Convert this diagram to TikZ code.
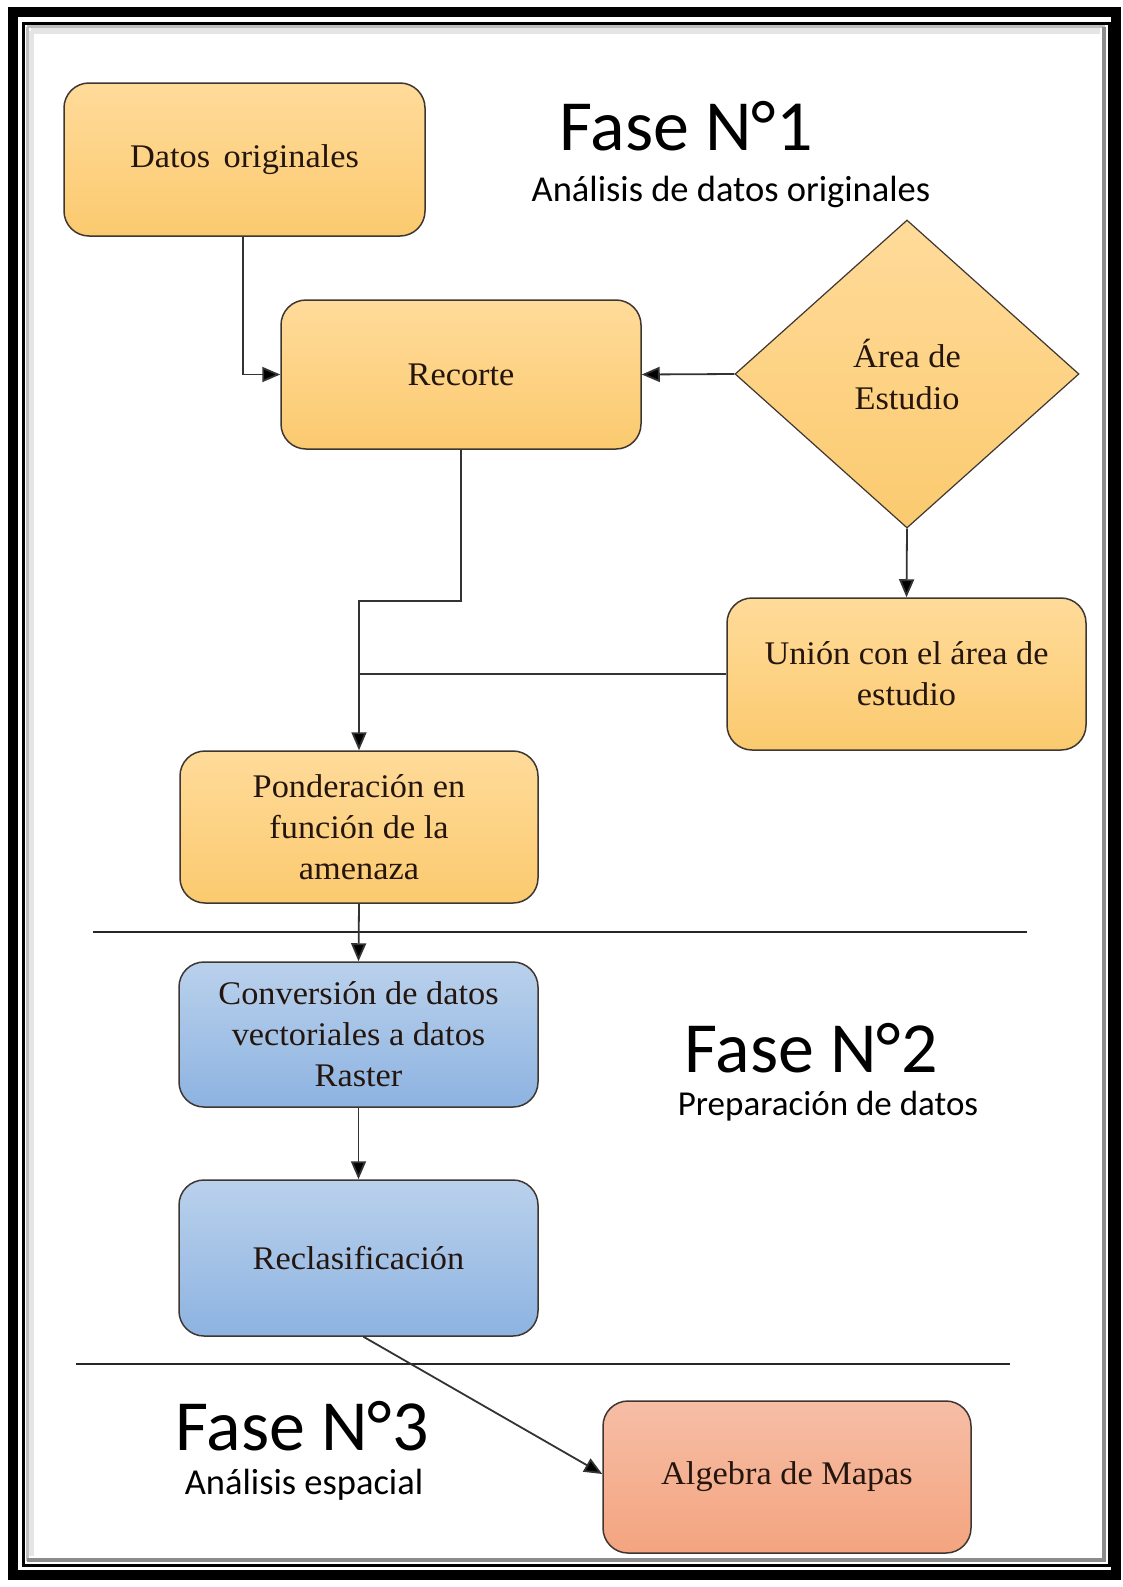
\documentclass[tikz,border=0pt]{standalone}
\usepackage{fontspec}
\setmainfont[FakeStretch=1.04]{Liberation Serif}
\newfontfamily\calib{Carlito}
\usetikzlibrary{shapes.geometric,arrows.meta}
\definecolor{oTop}{HTML}{FFDB9A}
\definecolor{oBot}{HTML}{FBCA6F}
\definecolor{bTop}{HTML}{BAD1EC}
\definecolor{bBot}{HTML}{8DB3E1}
\definecolor{sTop}{HTML}{F6BEA6}
\definecolor{sBot}{HTML}{F4A47F}
\definecolor{boxline}{HTML}{3E3630}
\definecolor{lineC}{HTML}{333333}
\definecolor{txt}{HTML}{24160E}
\tikzset{
  box/.style={draw=boxline, line width=1.5pt, rounded corners=25pt, align=center,
    font=\fontsize{33}{41}\selectfont, text=txt, inner sep=0pt},
  orangebox/.style={box, top color=oTop, bottom color=oBot},
  bluebox/.style={box, top color=bTop, bottom color=bBot},
  salmonbox/.style={box, top color=sTop, bottom color=sBot},
  conn/.style={draw=lineC, line width=1.8pt},
  arr/.style={conn, -{Triangle[length=18pt,width=15pt,fill=black]}},
  fase/.style={font=\calib\fontsize{72}{72}\selectfont, anchor=base, inner sep=0pt},
  fasesub/.style={font=\calib\fontsize{35}{35}\selectfont, anchor=base, inner sep=0pt},
  sep/.style={draw=black!85, line width=1.5pt}
}
\begin{document}
\begin{tikzpicture}[x=1pt,y=-1pt]
\useasboundingbox (0,0) rectangle (1122,1587);
\fill[white] (0,0) rectangle (1122,1587);
% frame
\draw[black, line width=10pt] (12.5,12.5) rectangle (1115.5,1575);
\draw[black!10, line width=6pt] (31,31) -- (31,1556);
\draw[black!10, line width=6pt] (31,31) -- (1100,31);
\draw[black!25, line width=3pt] (27,27) -- (27,1561);
\draw[black!25, line width=3pt] (27,27) -- (1105,27);
\draw[black!45, line width=4pt] (1104,27) -- (1104,1560) -- (27,1560);
\draw[black, line width=3pt] (23.5,23.5) rectangle (1109,1565);

% titles
\node[fase] (f1) at (686,150) {Fase N°1};
\node[fasesub, font=\calib\fontsize{36.5}{36.5}\selectfont] (f1s) at (731,201) {Análisis de datos originales};
\node[fase] (f2) at (811,1072) {Fase N°2};
\node[fasesub] (f2s) at (828,1115) {Preparación de datos};
\node[fase] (f3) at (302,1450) {Fase N°3};
\node[fasesub, font=\calib\fontsize{36.5}{36.5}\selectfont] (f3s) at (304,1494) {Análisis espacial};

% separators
\coordinate (s1a) at (93,932);
\coordinate (s1b) at (1027,932);
\coordinate (s2a) at (76,1364);
\coordinate (s2b) at (1010,1364);
\draw[sep] (s1a) -- (s1b);
\draw[sep] (s2a) -- (s2b);

% nodes
\node[orangebox, minimum width=361pt, minimum height=153pt] (datos) at (244.5,159.5) {Datos\hspace{0.15em} originales};
\node[orangebox, minimum width=360pt, minimum height=149pt] (recorte) at (461,374.5) {Recorte};
\node[diamond, draw=boxline, line width=1.2pt, top color=oTop, bottom color=oBot,
      minimum width=344pt, minimum height=308pt, inner sep=0pt, align=center,
      font=\fontsize{33}{42}\selectfont, text=txt] (area) at (907,374) {Área de\\Estudio};
\node[orangebox, minimum width=359pt, minimum height=152pt] (union) at (906.5,674) {Unión con el área de\\estudio};
\node[orangebox, minimum width=358pt, minimum height=152pt] (pond) at (359,827) {Ponderación en\\función de la\\amenaza};
\node[bluebox, minimum width=359pt, minimum height=145pt] (conv) at (358.5,1034.5) {Conversión de datos\\vectoriales a datos\\Raster};
\node[bluebox, minimum width=359pt, minimum height=156pt] (recl) at (358.5,1258) {Reclasificación};
\node[salmonbox, minimum width=368pt, minimum height=152pt] (alg) at (787,1477) {Algebra de Mapas};

% connectors
\coordinate (j1) at (359,601);
\draw[arr] ([xshift=-1.5pt]datos.south) |- (recorte.west);
\draw[arr] (area.west) -- (recorte.east);
\draw[arr] (area.south) -- (union.north);
\draw[arr] (recorte.south) |- (j1) -- (pond.north);
\draw[conn] (union.west) -- (union.west -| pond.north);
\draw[arr] (pond.south) -- (conv.north);
\draw[arr] (conv.south) -- (recl.north);
\draw[arr] ([xshift=5pt]recl.south) -- ([yshift=3pt]alg.west);
\end{tikzpicture}
\end{document}
